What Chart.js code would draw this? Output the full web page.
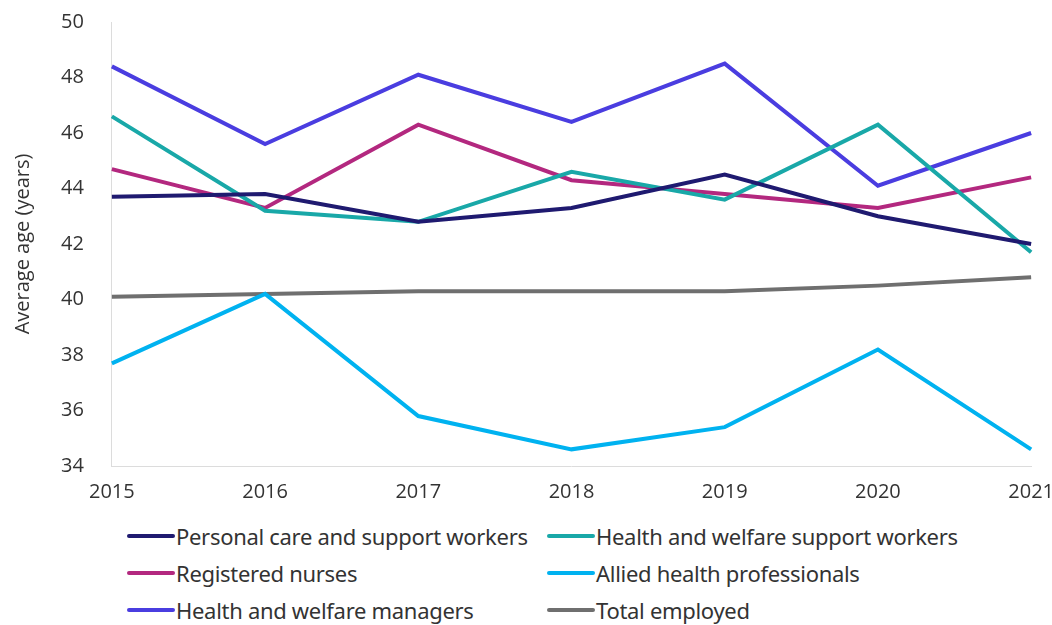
<!DOCTYPE html>
<html>
<head>
<meta charset="utf-8">
<script src="https://cdn.jsdelivr.net/npm/chart.js@4/dist/chart.umd.min.js"></script>
<style>
  body { margin: 0; background: #fff; overflow: hidden; }
  #wrap { position: absolute; left: 0; top: -10px; width: 1060px; height: 520px; }
  #legend { position: absolute; left: 127px; top: 523px; width: 900px;
    display: grid; grid-template-columns: 420px 420px; row-gap: 12px;
    font-family: "Noto Sans", sans-serif; font-size: 22px; color: #333; letter-spacing: -0.3px; }
  #legend div { display: flex; align-items: center; height: 25px; }
  #legend span { display: inline-block; width: 48px; height: 4px; border-radius: 2px; margin-right: 1px; }
</style>
</head>
<body>
<div id="wrap"><canvas id="myChart"></canvas></div>
<div id="legend"></div>
<script>
var years = ["2015", "2016", "2017", "2018", "2019", "2020", "2021"];
var personalCare = [43.7, 43.8, 42.8, 43.3, 44.5, 43.0, 42.0];
var supportWorkers = [46.6, 43.2, 42.8, 44.6, 43.6, 46.3, 41.7];
var nurses = [44.7, 43.3, 46.3, 44.3, 43.8, 43.3, 44.4];
var allied = [37.7, 40.2, 35.8, 34.6, 35.4, 38.2, 34.6];
var managers = [48.4, 45.6, 48.1, 46.4, 48.5, 44.1, 46.0];
var totalEmployed = [40.1, 40.2, 40.3, 40.3, 40.3, 40.5, 40.8];

function line(label, data, color) {
  return { label: label, data: data, borderColor: color, backgroundColor: color,
    borderWidth: 4, pointRadius: 0, tension: 0 };
}

var ctx = document.getElementById("myChart").getContext("2d");
var chart = new Chart(ctx, {
  type: "line",
  data: {
    labels: years,
    datasets: [
      line("Personal care and support workers", personalCare, "#1f1a70"),
      line("Health and welfare support workers", supportWorkers, "#19a8a8"),
      line("Registered nurses", nurses, "#b3287f"),
      line("Allied health professionals", allied, "#00b2f0"),
      line("Health and welfare managers", managers, "#4a3de0"),
      line("Total employed", totalEmployed, "#6f6f6f")
    ]
  },
  options: {
    responsive: true,
    maintainAspectRatio: false,
    animation: false,
    layout: { padding: { top: 5, left: 11, right: 0 } },
    plugins: { legend: { display: false }, tooltip: { enabled: false } },
    scales: {
      x: {
        grid: { display: false },
        border: { color: "#dcdcdc" },
        ticks: { color: "#333", font: { family: "Open Sans", size: 20 }, padding: 6 }
      },
      y: {
        min: 34, max: 50,
        grid: { display: false },
        border: { color: "#dcdcdc" },
        title: { display: true, text: "Average age (years)", color: "#333",
          font: { family: "Open Sans", size: 20 }, padding: { top: 0, bottom: 6 } },
        ticks: { stepSize: 2, color: "#333", font: { family: "Open Sans", size: 20 }, padding: 20 }
      }
    }
  }
});

var legend = document.getElementById("legend");
chart.data.datasets.forEach(function (ds) {
  var item = document.createElement("div");
  var swatch = document.createElement("span");
  swatch.style.background = ds.borderColor;
  item.appendChild(swatch);
  item.appendChild(document.createTextNode(ds.label));
  legend.appendChild(item);
});
</script>
</body>
</html>
